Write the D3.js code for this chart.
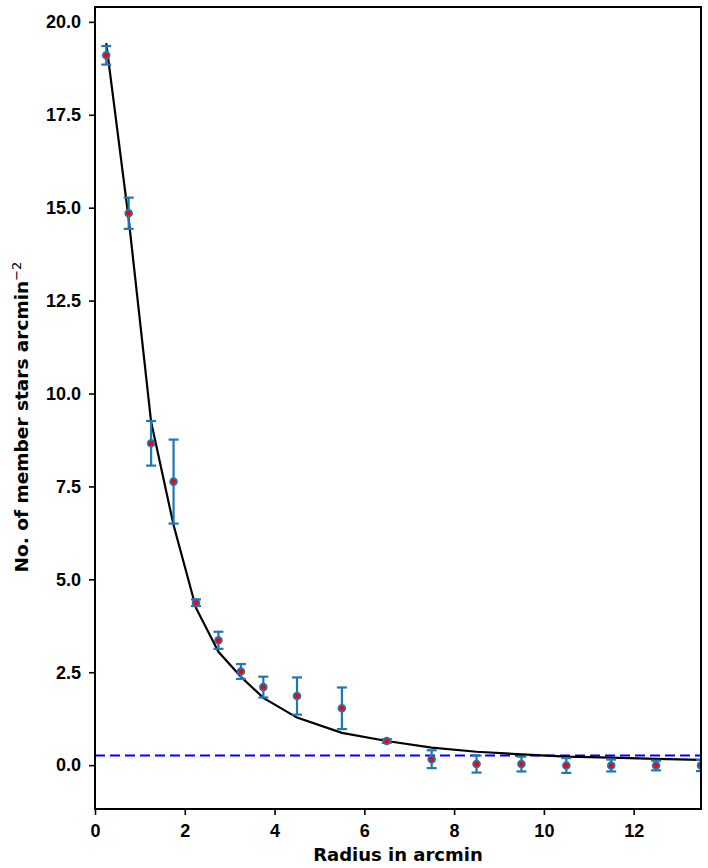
<!DOCTYPE html>
<html>
<head>
<meta charset="utf-8">
<script src="https://cdnjs.cloudflare.com/ajax/libs/d3/7.8.5/d3.min.js"></script>
<style>
  body { margin: 0; background: #fff; }
  svg { display: block; font-family: "DejaVu Sans", sans-serif; font-weight: bold; }
  .axis text { font-size: 18px; font-weight: bold; fill: #000; }
  .axis path, .axis line { stroke: #000; stroke-width: 1.6; }
  .errbar { stroke: #1f77b4; stroke-width: 2.2; fill: none; }
  .fit { stroke: #000; stroke-width: 2.2; fill: none; }
  .bg { stroke: #0000ff; stroke-width: 2; stroke-dasharray: 10,5; }
</style>
</head>
<body>
<svg width="708" height="868"></svg>
<script>
// radial density profile
var radius  = [0.25, 0.75, 1.25, 1.75, 2.25, 2.75, 3.25, 3.75, 4.5, 5.5, 6.5, 7.5, 8.5, 9.5, 10.5, 11.5, 12.5, 13.5];
var density = [19.1, 14.85, 8.66, 7.63, 4.37, 3.36, 2.52, 2.10, 1.86, 1.53, 0.65, 0.16, 0.03, 0.03, -0.01, -0.01, -0.01, -0.01];
var errors  = [0.25, 0.42, 0.6, 1.13, 0.09, 0.23, 0.2, 0.28, 0.5, 0.56, 0.05, 0.24, 0.23, 0.2, 0.2, 0.16, 0.13, 0.15];
var kingFit = [19.43, 14.7, 9.24, 6.46, 4.23, 3.05, 2.38, 1.81, 1.28, 0.87, 0.65, 0.47, 0.36, 0.29, 0.23, 0.2, 0.17, 0.14];
var background = 0.26;
var xTicks = [0, 2, 4, 6, 8, 10, 12];
var yTicks = [0, 2.5, 5, 7.5, 10, 12.5, 15, 17.5, 20];

var svg = d3.select("svg"),
    margin = {top: 7, right: 7, bottom: 59, left: 95},
    width = +svg.attr("width") - margin.left - margin.right,
    height = +svg.attr("height") - margin.top - margin.bottom;

var x = d3.scaleLinear().domain([0, 13.5]).range([0, width]);
var y = d3.scaleLinear().domain([-1.18, 20.4]).range([height, 0]);

var g = svg.append("g").attr("transform", "translate(" + margin.left + "," + margin.top + ")");

g.append("clipPath").attr("id", "clip")
  .append("rect").attr("width", width).attr("height", height);

var plot = g.append("g").attr("clip-path", "url(#clip)");

var data = radius.map(function(r, i) {
  return {r: r, d: density[i], e: errors[i], f: kingFit[i]};
});

// background level
plot.append("line")
    .attr("class", "bg")
    .attr("x1", 0).attr("x2", width)
    .attr("y1", y(background)).attr("y2", y(background));

// fitted profile
plot.append("path")
    .datum(data)
    .attr("class", "fit")
    .attr("d", d3.line().x(function(d) { return x(d.r); }).y(function(d) { return y(d.f); }));

// error bars
var eb = plot.selectAll(".eb").data(data).enter().append("g").attr("class", "errbar");
eb.append("line")
    .attr("x1", function(d) { return x(d.r); }).attr("x2", function(d) { return x(d.r); })
    .attr("y1", function(d) { return y(d.d - d.e); }).attr("y2", function(d) { return y(d.d + d.e); });
eb.append("line")
    .attr("x1", function(d) { return x(d.r) - 5; }).attr("x2", function(d) { return x(d.r) + 5; })
    .attr("y1", function(d) { return y(d.d + d.e); }).attr("y2", function(d) { return y(d.d + d.e); });
eb.append("line")
    .attr("x1", function(d) { return x(d.r) - 5; }).attr("x2", function(d) { return x(d.r) + 5; })
    .attr("y1", function(d) { return y(d.d - d.e); }).attr("y2", function(d) { return y(d.d - d.e); });

plot.selectAll(".pt").data(data).enter().append("circle")
    .attr("cx", function(d) { return x(d.r); })
    .attr("cy", function(d) { return y(d.d); })
    .attr("r", 3.4)
    .attr("fill", "#ff0000")
    .attr("stroke", "#1f77b4")
    .attr("stroke-width", 1.8);

// axes
g.append("g").attr("class", "axis")
    .attr("transform", "translate(0," + height + ")")
    .call(d3.axisBottom(x).tickValues(xTicks).tickSize(6).tickPadding(9).tickFormat(d3.format("d")));

g.append("g").attr("class", "axis")
    .call(d3.axisLeft(y).tickValues(yTicks).tickSize(6).tickPadding(8).tickFormat(d3.format(".1f")));

g.selectAll(".axis .domain").remove();

g.append("rect")
    .attr("width", width).attr("height", height)
    .attr("fill", "none").attr("stroke", "#000").attr("stroke-width", 2);

svg.append("text")
    .attr("x", margin.left + width / 2)
    .attr("y", 861)
    .attr("text-anchor", "middle")
    .style("font-size", "18px")
    .text("Radius in arcmin");

var yl = svg.append("text")
    .attr("transform", "translate(28,417) rotate(-90)")
    .attr("text-anchor", "middle")
    .style("font-size", "18.5px");
yl.append("tspan").text("No. of member stars arcmin");
yl.append("tspan").attr("dy", -7).style("font-size", "13px").style("font-weight", "normal").text("\u22122");
</script>
</body>
</html>
